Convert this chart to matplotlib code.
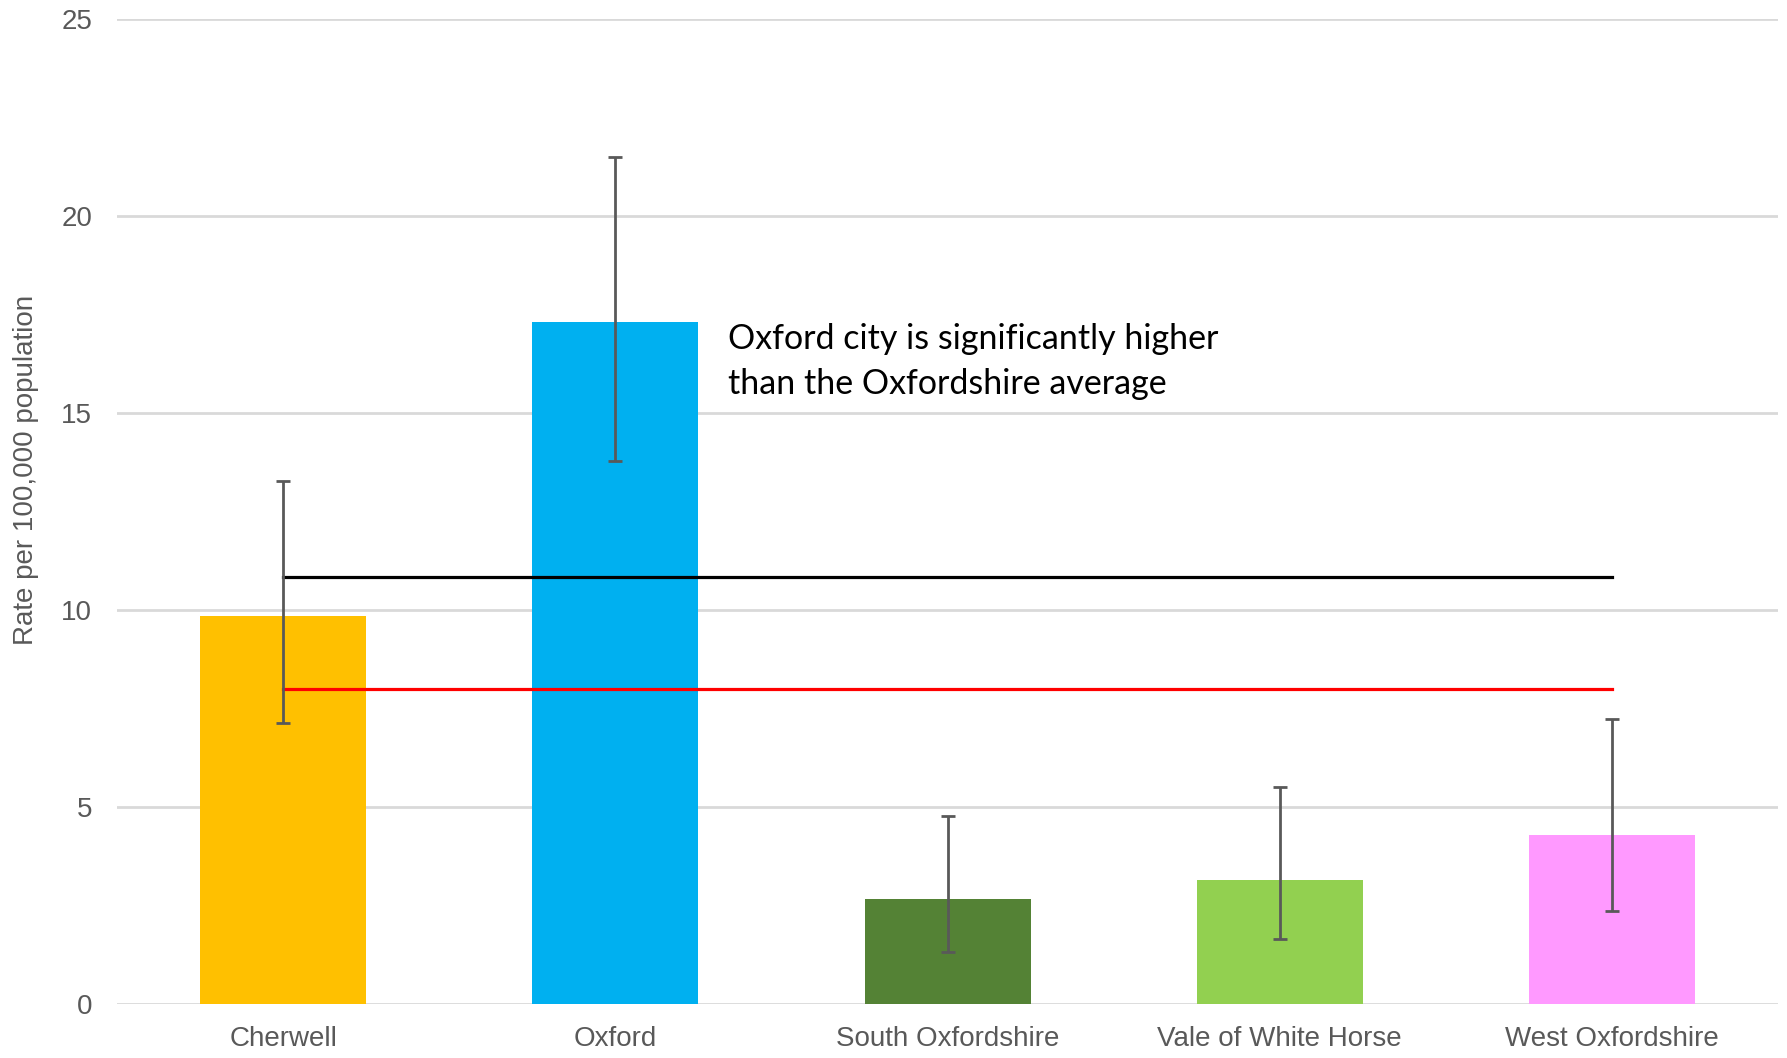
import numpy as np
import matplotlib.pyplot as plt

districts = ["Cherwell", "Oxford", "South Oxfordshire", "Vale of White Horse", "West Oxfordshire"]
rates = [9.86, 17.31, 2.66, 3.15, 4.28]
ci_low = [7.14, 13.79, 1.33, 1.65, 2.37]
ci_high = [13.27, 21.5, 4.77, 5.52, 7.23]
colours = ["#FFC000", "#00B0F0", "#548235", "#92D050", "#FF99FF"]
oxon_avg = 10.84
england_avg = 8.0
note = "Oxford city is significantly higher\nthan the Oxfordshire average"

rates = np.array(rates)
err = [rates - np.array(ci_low), np.array(ci_high) - rates]
x = np.arange(len(districts))

fig = plt.figure(figsize=(17.87, 10.58), dpi=100)
ax = fig.add_axes([0.0655, 0.051, 0.9295, 0.931])

ax.bar(x, rates, width=0.5, color=colours, zorder=2)
ax.errorbar(x, rates, yerr=err, fmt="none", ecolor="#595959", elinewidth=2, capsize=5, capthick=2, zorder=4)

# averages, drawn from first to last district
ax.plot([x[0], x[-1]], [oxon_avg, oxon_avg], color="black", lw=2.3, zorder=3)
ax.plot([x[0], x[-1]], [england_avg, england_avg], color="#FF0000", lw=2.3, zorder=3)

ax.text(1.34, 17.28, note, fontsize=24.5, family="Lato", color="black", va="top", ha="left", linespacing=1.5)

ax.set_xlim(-0.5, 4.5)
ax.set_ylim(0, 25)
ax.set_yticks([0, 5, 10, 15, 20, 25])
ax.set_xticks(x)
ax.set_xticklabels(districts)
ax.grid(axis="y", color="#D9D9D9", lw=2, zorder=0)
ax.set_axisbelow(True)
for s in ax.spines.values():
    s.set_visible(False)
ax.tick_params(axis="both", length=0, labelcolor="#595959", labelsize=20)
ax.tick_params(axis="y", pad=18)
ax.tick_params(axis="x", pad=16)
for lab in ax.get_xticklabels() + ax.get_yticklabels():
    lab.set_family("Liberation Sans")

ax.set_ylabel("Rate per 100,000 population", fontsize=20, color="#595959", family="Liberation Sans")
ax.yaxis.set_label_coords(-0.047, 0.542)

plt.savefig("out.png", dpi=100)
